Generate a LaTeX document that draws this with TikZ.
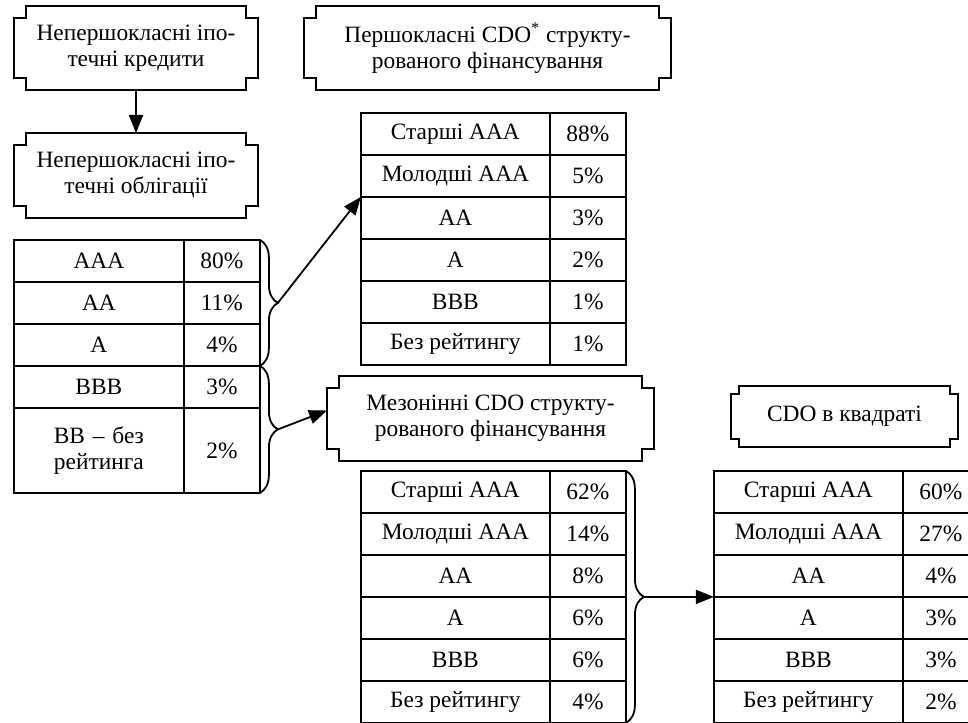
\documentclass[tikz,border=0pt]{standalone}
\usepackage{fontspec}
\setmainfont{Liberation Serif}
\usetikzlibrary{matrix,calc,arrows.meta,decorations.pathreplacing}

\tikzset{
  plaque/.style 2 args={minimum width=#1, minimum height=#2, align=center, inner sep=0pt, outer sep=0pt},
  ratings/.style 2 args={matrix of nodes, anchor=north west, inner sep=0pt, outer sep=0pt,
    row sep=-\pgflinewidth, column sep=-\pgflinewidth,
    nodes={draw, inner sep=1pt, minimum height=21pt, anchor=center},
    column 1/.style={nodes={minimum width=#1}},
    column 2/.style={nodes={minimum width=#2, text depth=-1.5pt}}},
  flow/.style={-{Triangle[length=9pt,width=7pt]}},
  bracket/.style={decorate, decoration={brace, amplitude=9pt}}
}

\newcommand\notchframe[2][6pt]{%
  \draw ([xshift=#1]#2.north west) -- ([xshift=-#1]#2.north east) -- ([xshift=-#1,yshift=-#1]#2.north east)
    -- ([yshift=-#1]#2.north east) -- ([yshift=#1]#2.south east) -- ([xshift=-#1,yshift=#1]#2.south east)
    -- ([xshift=-#1]#2.south east) -- ([xshift=#1]#2.south west) -- ([xshift=#1,yshift=#1]#2.south west)
    -- ([yshift=#1]#2.south west) -- ([yshift=-#1]#2.north west) -- ([xshift=#1,yshift=-#1]#2.north west) -- cycle;}

\begin{document}
\begin{tikzpicture}[x=0.5pt, y=-0.5pt, line width=0.9pt, font=\fontsize{11.7pt}{13pt}\selectfont]
\useasboundingbox (0,0) rectangle (968,722);

\node[plaque={122pt}{42pt}] (loans) at (136,48) {Непершокласні іпо-\\течні кредити};
\node[plaque={122pt}{42.5pt}] (bonds) at (136,175.5) {Непершокласні іпо-\\течні облігації};
\node[plaque={183.5pt}{42pt}] (primecdo) at (487.5,48) {Першокласні CDO\textsuperscript{*} структу-\\рованого фінансування};
\node[plaque={163.5pt}{42.5pt}] (mezzcdo) at (490.5,418.5) {Мезонінні CDO структу-\\рованого фінансування};
\node[plaque={113.5pt}{30.5pt}] (sqcdo) at (844.5,416.5) {CDO в квадраті};
\foreach \b in {loans,bonds,primecdo,mezzcdo} {\notchframe{\b}}
\notchframe[4pt]{sqcdo}

\matrix[ratings={85pt}{38pt}, row 5/.style={nodes={minimum height=42.5pt}}] (pool) at (13,239) {
  AAA & 80\% \\
  AA & 11\% \\
  A & 4\% \\
  BBB & 3\% \\
  |[text width=60pt, align=center]| BB – без рейтинга & 2\% \\
};
\matrix[ratings={94.5pt}{38pt}] (primetab) at (360,112) {
  Старші AAA & 88\% \\
  Молодші AAA & 5\% \\
  AA & 3\% \\
  A & 2\% \\
  BBB & 1\% \\
  Без рейтингу & 1\% \\
};
\matrix[ratings={94.5pt}{38pt}] (mezztab) at (360,470) {
  Старші AAA & 62\% \\
  Молодші AAA & 14\% \\
  AA & 8\% \\
  A & 6\% \\
  BBB & 6\% \\
  Без рейтингу & 4\% \\
};
\matrix[ratings={94.5pt}{38pt}] (sqtab) at (713,470) {
  Старші AAA & 60\% \\
  Молодші AAA & 27\% \\
  AA & 4\% \\
  A & 3\% \\
  BBB & 3\% \\
  Без рейтингу & 2\% \\
};

\draw[bracket] (pool-1-2.north east) -- (pool-3-2.south east);
\draw[bracket] (pool-4-2.north east) -- (pool-5-2.south east);
\draw[bracket] (mezztab-1-2.north east) -- (mezztab-6-2.south east);
\coordinate (tipA) at ($(pool-1-2.north east)!.5!(pool-3-2.south east)+(9pt,0)$);
\coordinate (tipB) at ($(pool-4-2.north east)!.5!(pool-5-2.south east)+(9pt,0)$);
\coordinate (tipC) at ($(mezztab-1-2.north east)!.5!(mezztab-6-2.south east)+(9pt,0)$);

\draw[flow] (loans.south) -- (bonds.north);
\draw[flow] (tipA) -- (primetab-2-1.south west);
\draw[flow] (tipB) -- ([yshift=4pt]mezzcdo.west);
\draw[flow] (tipC) -- (sqtab-3-1.south west);
\end{tikzpicture}
\end{document}
